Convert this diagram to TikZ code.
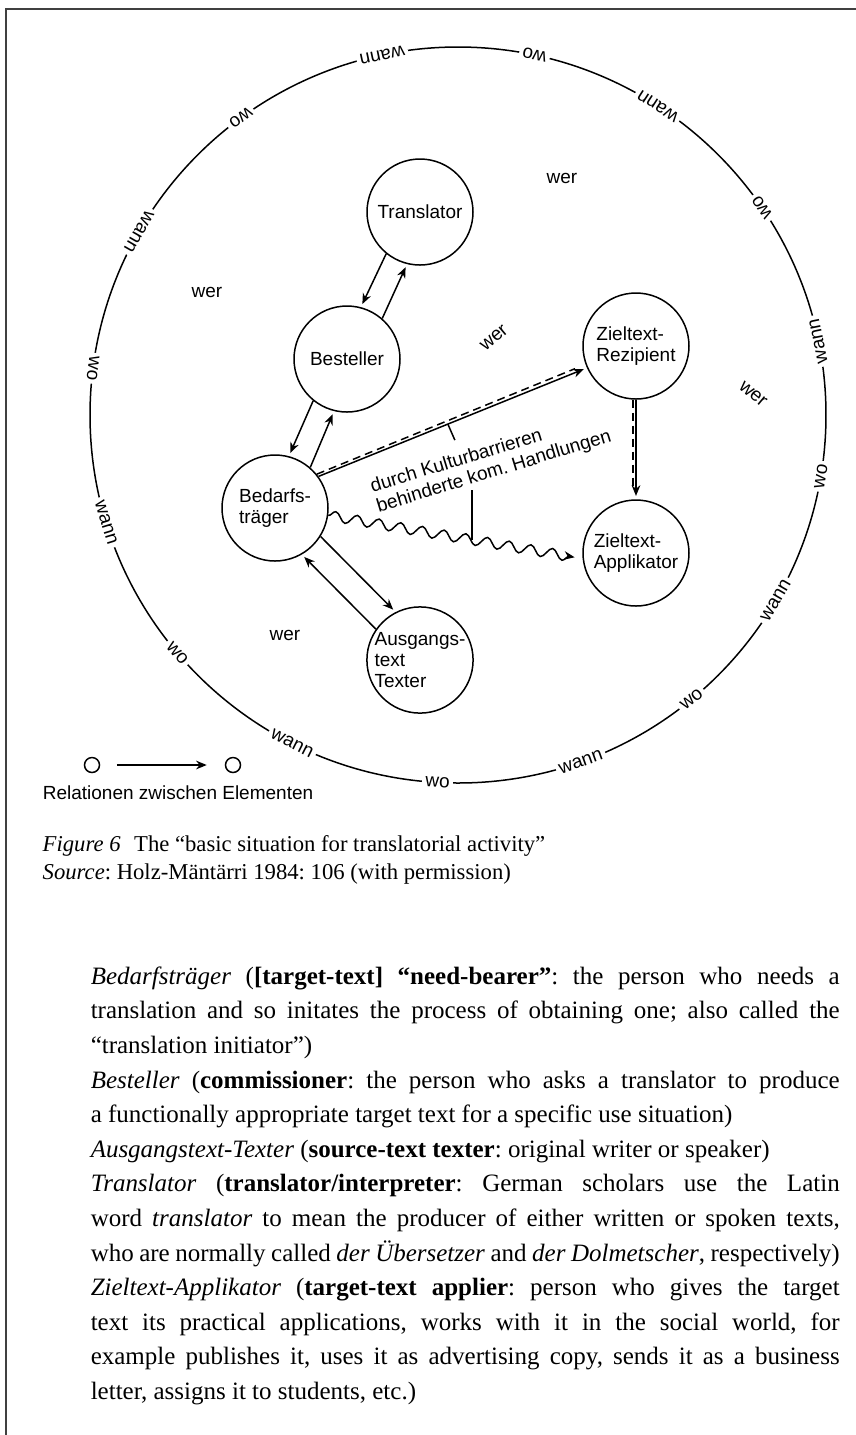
\documentclass[tikz,border=0pt]{standalone}
\usepackage{fontspec}
\setmainfont{Liberation Serif}
\setsansfont{Liberation Sans}
\usetikzlibrary{arrows.meta,calc,decorations.pathmorphing}
\tikzset{main node/.style={circle,draw,minimum size=31.8pt,inner sep=0pt,align=left,
    font=\sffamily\fontsize{5.7}{6.3}\selectfont},
}
\setlength{\parindent}{0pt}
\hyphenpenalty=10000
\exhyphenpenalty=10000
\frenchspacing

\begin{document}
\begin{tikzpicture}[x=0.3pt,y=-0.3pt,line width=0.45pt,>={Stealth[length=3.2pt,width=2.6pt]},
    relation/.style={->,shorten >=1pt},
    barrier/.style={dash pattern=on 2.4pt off 1.5pt,shorten >=3.4pt},
    plain label/.style={font=\sffamily\fontsize{5.7}{6.3}\selectfont},
    ring label/.style={plain label,fill=white,inner sep=1pt},
    caption/.style={inner sep=0pt,anchor=base west,font=\fontsize{6.8}{8.4}\selectfont},
    gloss/.style={text width=224.7pt,align=justify,inner sep=0pt,font=\fontsize{7.5}{10.38}\selectfont}]
\useasboundingbox (0,0) rectangle (856,1435);
\draw[line width=0.6pt,black!75] (6,1435) -- (6,9) -- (856,9);

\draw (458,415) circle [radius=110.4pt];
\foreach \a/\w in {11.6/wann,34.3/wo,57.1/wann,78/wo,101.9/wann,126.2/wo,150.1/wann,172.7/wo,
    197/wann,220.3/wo,243.2/wann,266.8/wo,289.5/wann,309.4/wo,329.7/wann,350.4/wo}
  \node[ring label,rotate=\a+90] at ({458+368*cos(\a)},{415-368*sin(\a)}) {\w};

\node[main node] (trans) at (420,212) {Translator};
\node[main node] (best) at (347,359) {Besteller};
\node[main node] (bed) at (275,508) {Bedarfs-\\träger};
\node[main node] (ausg) at (420,660) {Ausgangs-\\text\\Texter};
\node[main node] (rez) at (636,346) {Zieltext-\\Rezipient};
\node[main node] (appl) at (636,553) {Zieltext-\\Applikator};

\node[plain label] (wer1) at (562,178) {wer};
\node[plain label] (wer2) at (207,292) {wer};
\node[plain label,rotate=40] (wer3) at (494,338) {wer};
\node[plain label,rotate=-40] (wer4) at (753,394) {wer};
\node[plain label] (wer5) at (285,635) {wer};

\path[relation]
  (trans.231) edge (best.75)
  (best.49) edge (trans.256)
  (best.231) edge (bed.75)
  (bed.49) edge (best.256)
  (bed.328) edge (ausg.117)
  (ausg.145) edge (bed.300);

\draw[relation] (bed.36) -- coordinate[pos=0.482] (t1) (rez.204);
\draw[barrier] (bed.39) -- (rez.200);
\draw[relation] (rez.south) -- (appl.north);
\draw[barrier] (rez.267) -- (appl.93);
\draw[relation,shorten >=2.4pt,decorate,
  decoration={snake,amplitude=1.5pt,segment length=6.6pt,post length=3pt}] (bed.352) -- (appl.186);
\coordinate (t2) at ($(bed.352)!0.565!(appl.186)$);

\node[plain label,rotate=17,align=left] (kom) at (491,462) {durch Kulturbarrieren\\behinderte kom. Handlungen};
\draw (t1) -- ++(7,16);
\draw (t2) -- ++(0,-50);

\node[circle,draw,minimum size=4.5pt,inner sep=0pt] (ea) at (92,765) {};
\node[circle,draw,minimum size=4.5pt,inner sep=0pt] (eb) at (233,765) {};
\draw[->,shorten <=5pt,shorten >=5.4pt] (ea) -- (eb);
\node[plain label,anchor=west] (legend) at (31,793) {Relationen zwischen Elementen};

\node[caption] (fig) at (42,851) {\textit{Figure 6}\hspace{0.6em}The “basic situation for translatorial activity”};
\node[caption] (src) at (42,879) {\textit{Source}: Holz-Mäntärri 1984: 106 (with permission)};

\node[gloss,anchor=north west] (terms) at (90,966) {%
\textit{Bedarfsträger} (\textbf{[target-text] “need-bearer”}: the person who needs a\linebreak
translation and so initates the process of obtaining one; also called the\linebreak
“translation initiator”)\par
\textit{Besteller} (\textbf{commissioner}: the person who asks a translator to produce\linebreak
a functionally appropriate target text for a specific use situation)\par
\textit{Ausgangstext-Texter} (\textbf{source-text texter}: original writer or speaker)\par
\textit{Translator} (\textbf{translator/interpreter}: German scholars use the Latin\linebreak
word \textit{translator} to mean the producer of either written or spoken texts,\linebreak
who are normally called \textit{der Übersetzer} and \textit{der Dolmetscher}, respectively)\par
\textit{Zieltext-Applikator} (\textbf{target-text applier}: person who gives the target\linebreak
text its practical applications, works with it in the social world, for\linebreak
example publishes it, uses it as advertising copy, sends it as a business\linebreak
letter, assigns it to students, etc.)};
\end{tikzpicture}
\end{document}
